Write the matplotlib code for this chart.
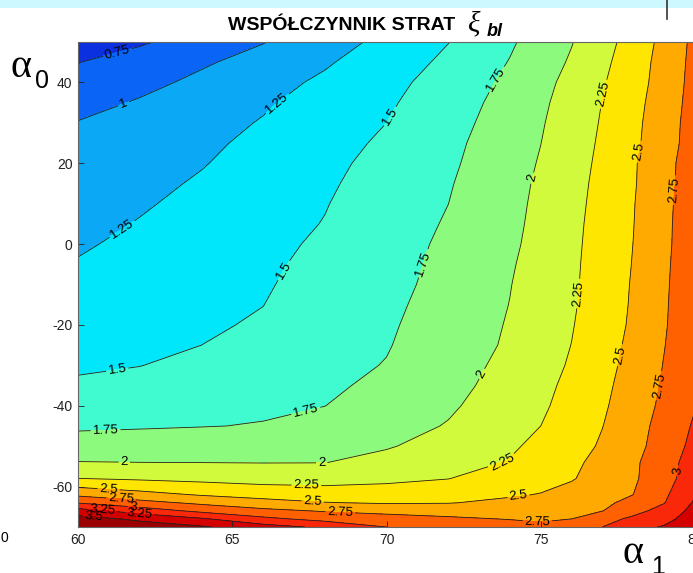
import matplotlib
matplotlib.use('Agg')
import matplotlib.pyplot as plt
from matplotlib.patches import Rectangle
from matplotlib.lines import Line2D

# ---------------- data ----------------
alpha1 = [60, 62, 64, 66, 68, 70, 72, 74, 75, 76, 77, 78, 79, 80]
alpha0 = [50, 45, 40, 35, 30, 25, 20, 15, 10, 5, 0, -5, -10, -15, -20, -25, -30, -35,
          -40, -45, -50, -54, -58, -62, -64, -66, -68, -70]

xi_row_p50 = [0.59, 0.72, 0.86, 0.99, 1.15, 1.31, 1.495, 1.72, 1.85, 1.99, 2.16, 2.35, 2.57, 2.81]
xi_row_p45 = [0.745, 0.856, 0.968, 1.093, 1.224, 1.377, 1.548, 1.76, 1.89, 2.027, 2.196, 2.381, 2.589, 2.82]
xi_row_p40 = [0.80, 0.93, 1.055, 1.17, 1.29, 1.43, 1.60, 1.80, 1.93, 2.07, 2.23, 2.40, 2.60, 2.83]
xi_row_p35 = [0.915, 1.023, 1.123, 1.222, 1.341, 1.468, 1.634, 1.836, 1.958, 2.10, 2.255, 2.424, 2.62, 2.84]
xi_row_p30 = [1.01, 1.087, 1.17, 1.265, 1.38, 1.50, 1.665, 1.86, 1.98, 2.12, 2.27, 2.44, 2.64, 2.85]
xi_row_p25 = [1.034, 1.12, 1.206, 1.304, 1.415, 1.537, 1.691, 1.887, 1.998, 2.138, 2.285, 2.452, 2.648, 2.856]
xi_row_p20 = [1.07, 1.153, 1.237, 1.34, 1.445, 1.57, 1.71, 1.907, 2.017, 2.155, 2.30, 2.474, 2.676, 2.87]
xi_row_p15 = [1.11, 1.19, 1.275, 1.372, 1.469, 1.593, 1.732, 1.925, 2.035, 2.169, 2.315, 2.479, 2.677, 2.88]
xi_row_p10 = [1.148, 1.226, 1.31, 1.40, 1.49, 1.616, 1.749, 1.938, 2.047, 2.18, 2.327, 2.489, 2.69, 2.89]
xi_row_p5 = [1.187, 1.262, 1.343, 1.424, 1.508, 1.636, 1.77, 1.949, 2.057, 2.191, 2.338, 2.495, 2.697, 2.895]
xi_row_0 = [1.225, 1.298, 1.372, 1.446, 1.533, 1.657, 1.79, 1.961, 2.07, 2.20, 2.345, 2.502, 2.70, 2.90]
xi_row_m5 = [1.264, 1.331, 1.398, 1.465, 1.555, 1.671, 1.805, 1.978, 2.089, 2.208, 2.352, 2.51, 2.71, 2.905]
xi_row_m10 = [1.306, 1.364, 1.423, 1.481, 1.575, 1.684, 1.82, 1.993, 2.103, 2.214, 2.358, 2.52, 2.717, 2.91]
xi_row_m15 = [1.347, 1.397, 1.448, 1.498, 1.60, 1.703, 1.839, 2.004, 2.114, 2.223, 2.366, 2.527, 2.723, 2.918]
xi_row_m20 = [1.389, 1.432, 1.475, 1.52, 1.625, 1.721, 1.857, 2.018, 2.127, 2.237, 2.38, 2.537, 2.729, 2.925]
xi_row_m25 = [1.43, 1.465, 1.50, 1.575, 1.655, 1.737, 1.874, 2.031, 2.142, 2.253, 2.40, 2.557, 2.743, 2.932]
xi_row_m30 = [1.472, 1.496, 1.556, 1.622, 1.688, 1.759, 1.90, 2.061, 2.164, 2.274, 2.42, 2.58, 2.76, 2.945]
xi_row_m35 = [1.529, 1.568, 1.626, 1.678, 1.721, 1.788, 1.927, 2.092, 2.19, 2.305, 2.445, 2.604, 2.777, 2.965]
xi_row_m40 = [1.621, 1.653, 1.686, 1.718, 1.748, 1.859, 1.967, 2.125, 2.215, 2.332, 2.468, 2.627, 2.80, 2.99]
xi_row_m45 = [1.713, 1.728, 1.743, 1.76, 1.83, 1.91, 2.014, 2.171, 2.25, 2.373, 2.496, 2.654, 2.833, 3.03]
xi_row_m50 = [1.86, 1.87, 1.88, 1.895, 1.93, 1.98, 2.096, 2.219, 2.304, 2.41, 2.527, 2.675, 2.856, 3.07]
xi_row_m54 = [2.007, 2.0, 1.997, 1.993, 1.995, 2.076, 2.166, 2.262, 2.357, 2.452, 2.57, 2.708, 2.898, 3.11]
xi_row_m58 = [2.253, 2.217, 2.186, 2.157, 2.156, 2.193, 2.245, 2.37, 2.417, 2.484, 2.593, 2.716, 2.907, 3.14]
xi_row_m62 = [2.70, 2.583, 2.48, 2.405, 2.368, 2.372, 2.407, 2.475, 2.51, 2.574, 2.664, 2.75, 2.958, 3.23]
xi_row_m64 = [2.985, 2.83, 2.70, 2.594, 2.51, 2.479, 2.49, 2.55, 2.58, 2.63, 2.70, 2.82, 2.99, 3.28]
xi_row_m66 = [3.35, 3.135, 2.94, 2.81, 2.73, 2.68, 2.65, 2.64, 2.65, 2.69, 2.745, 2.92, 3.09, 3.33]
xi_row_m68 = [3.6, 3.455, 3.28, 3.06, 2.92, 2.85, 2.79, 2.74, 2.72, 2.75, 2.91, 3.05, 3.17, 3.38]
xi_row_m70 = [3.72, 3.62, 3.53, 3.35, 3.2, 3.0, 2.92, 2.85, 2.8, 2.83, 3.0, 3.17, 3.27, 3.43]

xi_bl = [xi_row_p50, xi_row_p45, xi_row_p40, xi_row_p35, xi_row_p30, xi_row_p25,
         xi_row_p20, xi_row_p15, xi_row_p10, xi_row_p5, xi_row_0, xi_row_m5,
         xi_row_m10, xi_row_m15, xi_row_m20, xi_row_m25, xi_row_m30, xi_row_m35,
         xi_row_m40, xi_row_m45, xi_row_m50, xi_row_m54, xi_row_m58, xi_row_m62,
         xi_row_m64, xi_row_m66, xi_row_m68, xi_row_m70]

levels = [0.5, 0.75, 1.0, 1.25, 1.5, 1.75, 2.0, 2.25, 2.5, 2.75, 3.0, 3.25, 3.5, 3.75]
band_colors = ['#0a30e0', '#0a64f5', '#0aa8f5', '#00e6fa', '#40fad0', '#8cfa7c',
               '#d2fa3c', '#ffe600', '#ffaa00', '#ff6000', '#f82808', '#d40000', '#9a0000']

xticks = [60, 65, 70, 75, 80]
yticks = [-60, -40, -20, 0, 20, 40]

label_positions = [
    (61.3, 46.8), (61.5, 34.4), (61.5, 2.9), (66.5, 34.4),
    (69.9, 32.6), (66.8, -7.1), (61.3, -32.6),
    (73.6, 40.6), (71.4, -5.3), (67.4, -41.8), (60.9, -47.8),
    (75.0, 15.8), (73.4, -33.4), (67.9, -55.2), (61.5, -54.5),
    (77.2, 36.8), (76.3, -12.3), (73.8, -55.0), (67.4, -61.2), (61.0, -59.7),
    (78.3, 22.7), (77.7, -27.7), (74.3, -63.6), (67.6, -64.4), (61.4, -62.2),
    (79.4, 13.3), (78.9, -35.1), (74.9, -68.1), (68.5, -66.9), (61.8, -64.4),
    (79.5, -56.2), (60.8, -65.4), (62.0, -67.4), (60.5, -67.9),
]

# ---------------- figure ----------------
plt.rcParams['font.family'] = ['Liberation Sans', 'DejaVu Sans']
plt.rcParams['axes.unicode_minus'] = False
W, H = 693, 573
fig = plt.figure(figsize=(W / 100, H / 100), dpi=100)
fig.patch.set_facecolor('white')

ax = fig.add_axes([78 / W, (H - 527) / H, (695 - 78) / W, (527 - 42) / H])

ax.contourf(alpha1, alpha0, xi_bl, levels=levels, colors=band_colors)
cs = ax.contour(alpha1, alpha0, xi_bl, levels=levels[1:-1], colors='#202020', linewidths=0.6)
ax.clabel(cs, fmt=lambda v: f'{v:g}', fontsize=9.5, inline=True, inline_spacing=2,
          manual=label_positions, colors='black')

ax.set_xlim(60, 80)
ax.set_ylim(-70, 50)
ax.set_xticks(xticks)
ax.set_yticks(yticks)
ax.tick_params(direction='in', length=4, width=0.6, labelsize=10, pad=4, colors='#222222')
for s in ax.spines.values():
    s.set_linewidth(0.8)
    s.set_color('#666666')

# title
fig.text(228 / W, 1 - 30 / H, 'WSPÓŁCZYNNIK STRAT', fontsize=14, fontweight='bold',
         ha='left', va='baseline')
fig.text(468 / W, 1 - 31 / H, 'ξ', fontsize=21, fontstyle='italic',
         family=['Liberation Serif', 'DejaVu Serif'], ha='left', va='baseline')
fig.text(487 / W, 1 - 36 / H, 'bl', fontsize=13, fontweight='bold', fontstyle='italic',
         ha='left', va='baseline')

# axis labels
fig.text(11 / W, 1 - 77 / H, 'α', fontsize=29, family=['Liberation Serif', 'DejaVu Serif'],
         ha='left', va='baseline')
fig.text(35 / W, 1 - 88 / H, '0', fontsize=18, ha='left', va='baseline')
fig.text(623 / W, 1 - 563 / H, 'α', fontsize=29, family=['Liberation Serif', 'DejaVu Serif'],
         ha='left', va='baseline')
fig.text(651 / W, 1 - 574 / H, '1', fontsize=18, ha='left', va='baseline')

# cropped remnants of the screenshot
fig.text(4 / W, 1 - 538 / H, '0', fontsize=10, ha='center', va='center')
fig.add_artist(Rectangle((0, 1 - 8 / H), 1, 8 / H, transform=fig.transFigure,
                         facecolor='#cdf8ff', edgecolor='none'))
fig.add_artist(Line2D([667 / W, 667 / W], [1, 1 - 19 / H], transform=fig.transFigure,
                      color='#333333', linewidth=1.2))

fig.savefig('out.png', dpi=100)
